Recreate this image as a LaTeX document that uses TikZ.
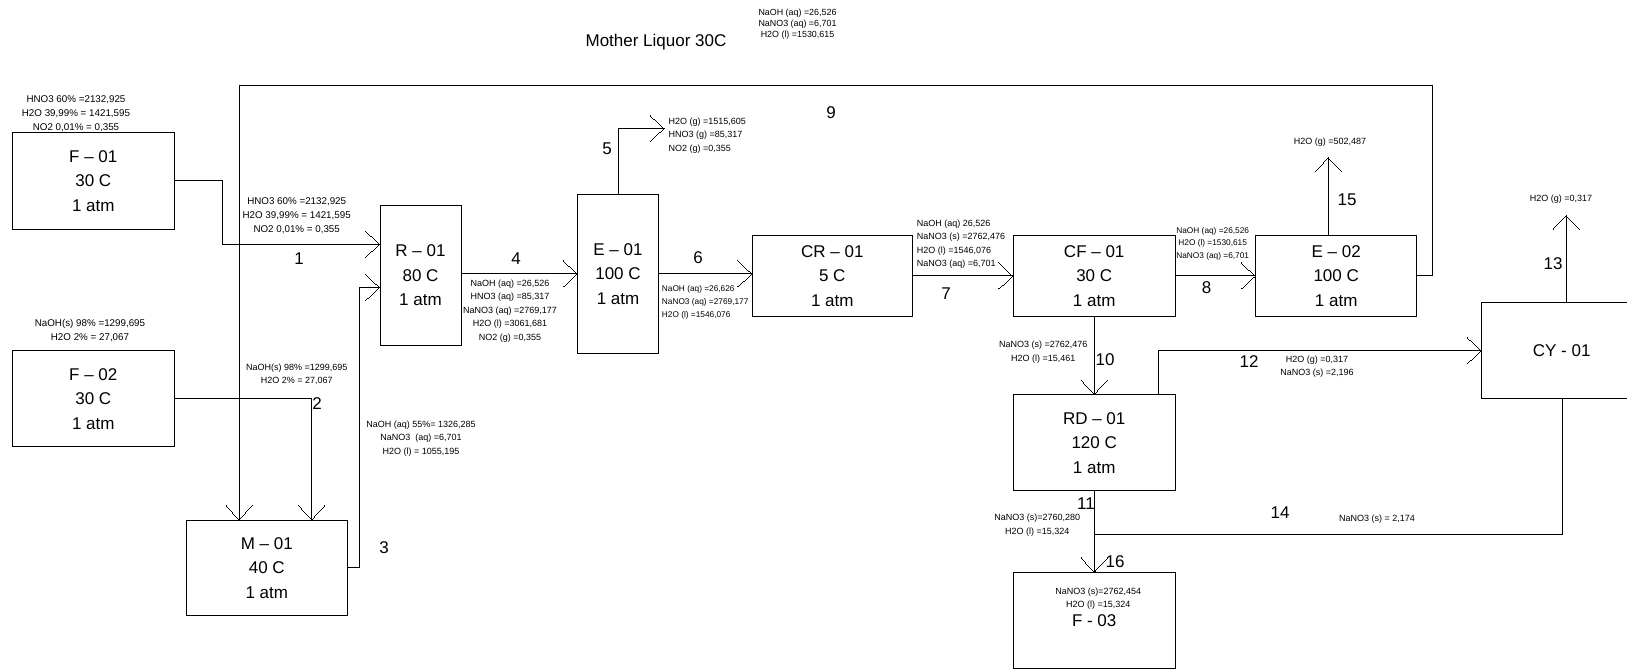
\documentclass[tikz,border=0pt]{standalone}
\usepackage{fontspec}
\setmainfont{Liberation Sans}
\usetikzlibrary{arrows.meta}
\pgfdeclarearrow{
  name = Vbarb,
  parameters = {\the\pgfarrowlength,\the\pgfarrowwidth,\the\pgfarrowlinewidth},
  setup code = {
    \pgfarrowssettipend{0pt}
    \pgfarrowssetlineend{-0.5\pgfarrowlinewidth}
    \pgfarrowssetbackend{-\pgfarrowlength}
    \pgfarrowsupperhullpoint{-\pgfarrowlength}{.5\pgfarrowwidth}
    \pgfarrowsupperhullpoint{0pt}{0pt}
    \pgfarrowssavethe\pgfarrowlength
    \pgfarrowssavethe\pgfarrowwidth
    \pgfarrowssavethe\pgfarrowlinewidth
  },
  drawing code = {
    \pgfsetlinewidth{\pgfarrowlinewidth}
    \pgfsetmiterjoin
    \pgfpathmoveto{\pgfqpoint{-\pgfarrowlength}{.5\pgfarrowwidth}}
    \pgfpathlineto{\pgfqpoint{0pt}{0pt}}
    \pgfpathlineto{\pgfqpoint{-\pgfarrowlength}{-.5\pgfarrowwidth}}
    \pgfusepathqstroke
  },
  defaults = {length=14pt, width=26pt}
}
\tikzset{
  unit/.style={draw, line width=0.9pt, align=center, inner sep=0pt, font=\fontsize{17}{24.5}\selectfont},
  num/.style={inner sep=0pt, font=\fontsize{17}{20}\selectfont},
  lbl/.style={align=center, inner sep=0pt, font=\fontsize{9}{13.5}\selectfont},
  lbll/.style={lbl, align=left, anchor=west},
  feed/.style={lbl, font=\fontsize{9.8}{14}\selectfont},
  tiny/.style={lbl, font=\fontsize{8.3}{12.5}\selectfont},
  arr/.style={-{Vbarb[length=14pt,width=26pt]}},
  conn/.style={line width=0.9pt}
}
\begin{document}
\begin{tikzpicture}[x=1pt,y=-1pt]
\path[use as bounding box] (0,0) rectangle (1627,669);
\clip (0,0) rectangle (1627,669);

% units
\node[unit, minimum width=161.3pt, minimum height=96.3pt] (F01) at (93.3,180.9) {F -- 01\\30 C\\1 atm};
\node[unit, minimum width=161.3pt, minimum height=96pt] (F02) at (93.3,398.7) {F -- 02\\30 C\\1 atm};
\node[unit, minimum width=161.7pt, minimum height=95.7pt] (M01) at (266.8,567.8) {M -- 01\\40 C\\1 atm};
\node[unit, minimum width=81pt, minimum height=140.7pt] (R01) at (420.5,275.4) {R -- 01\\80 C\\1 atm};
\node[unit, minimum width=80.6pt, minimum height=159.3pt] (E01) at (618,273.7) {E -- 01\\100 C\\1 atm};
\node[unit, minimum width=160pt, minimum height=81.7pt] (CR01) at (832.3,275.85) {CR -- 01\\5 C\\1 atm};
\node[unit, minimum width=161.7pt, minimum height=81.7pt] (CF01) at (1094.2,275.85) {CF -- 01\\30 C\\1 atm};
\node[unit, minimum width=161pt, minimum height=81.7pt] (E02) at (1336.2,275.85) {E -- 02\\100 C\\1 atm};
\node[unit, minimum width=161.7pt, minimum height=96.4pt] (RD01) at (1094.2,442.7) {RD -- 01\\120 C\\1 atm};
\node[unit, minimum width=160pt, minimum height=96pt] (CY01) at (1561.7,350.5) {CY - 01};
\node[unit, minimum width=161.7pt, minimum height=95.7pt] (F03) at (1094.2,620.2) {F - 03};

% free ends
\coordinate (s5end) at (664,128.3);
\coordinate (r9a) at (1432.3,85);
\coordinate (s13end) at (1566,215);
\coordinate (s15end) at (1328.3,157.3);
\coordinate (j14) at (1094.2,534.3);

% connectors
\draw[conn,arr] (F01.east) -- ++(47.7,0) |- ([yshift=31.4pt]R01.west);
\draw[conn,arr] (F02.east) -| ([xshift=44.9pt]M01.north);
\draw[conn,arr] (M01.east) -- ++(11.6,0) |- ([yshift=-11.9pt]R01.west);
\draw[conn,arr] (R01.east |- E01.west) -- (E01.west);
\draw[conn,arr] (E01.north) |- (s5end);
\draw[conn,arr] (E01.east) -- (E01.east -| CR01.west);
\draw[conn,arr] (CR01.east) -- (CF01.west);
\draw[conn,arr] (CF01.east) -- (E02.west);
\draw[conn,arr] (E02.east) -| (r9a) -| ([xshift=-27.8pt]M01.north);
\draw[conn,arr] (CF01.south) -- (RD01.north);
\draw[conn,arr] (RD01.south) -- (F03.north);
\draw[conn,arr] ([xshift=64.1pt]RD01.north) |- (CY01.west);
\draw[conn,arr] ([xshift=4.3pt]CY01.north) -- (s13end);
\draw[conn] ([xshift=1pt]CY01.south) |- (j14);
\draw[conn,arr] ([xshift=-7.9pt]E02.north) -- (s15end);

% stream numbers
\node[num] (n1) at (299,259) {1};
\node[num] (n2) at (317,404) {2};
\node[num] (n3) at (384,548) {3};
\node[num] (n4) at (516,258.5) {4};
\node[num] (n5) at (607,148.5) {5};
\node[num] (n6) at (698,257.3) {6};
\node[num] (n7) at (946,293.6) {7};
\node[num] (n8) at (1206.7,287.4) {8};
\node[num] (n9) at (831,113) {9};
\node[num] (n10) at (1105,360) {10};
\node[num] (n11) at (1086,504) {11};
\node[num] (n12) at (1249,362) {12};
\node[num] (n13) at (1553,263.5) {13};
\node[num] (n14) at (1280,512.6) {14};
\node[num] (n15) at (1347,200) {15};
\node[num] (n16) at (1115,562) {16};

\node[num] (ml) at (656,41.7) {Mother Liquor 30C};

% compositions
\node[lbl, font=\fontsize{8.9}{11.3}\selectfont] (tml) at (797.5,24) {NaOH (aq) =26,526\\NaNO3 (aq) =6,701\\H2O (l) =1530,615};
\node[feed] (tf01) at (76,114.2) {HNO3 60\% =2132,925\\H2O 39,99\% = 1421,595\\NO2 0,01\% = 0,355};
\node[feed] (ts1) at (296.7,215.5) {HNO3 60\% =2132,925\\H2O 39,99\% = 1421,595\\NO2 0,01\% = 0,355};
\node[feed] (tf02) at (90,330.5) {NaOH(s) 98\% =1299,695\\H2O 2\% = 27,067};
\node[lbl] (ts2) at (296.7,374.5) {NaOH(s) 98\% =1299,695\\H2O 2\% = 27,067};
\node[lbl] (ts3) at (421,438.5) {NaOH (aq) 55\%= 1326,285\\NaNO3\ \ (aq) =6,701\\H2O (l) = 1055,195};
\node[lbl] (ts4) at (510,311) {NaOH (aq) =26,526\\HNO3 (aq) =85,317\\NaNO3 (aq) =2769,177\\H2O (l) =3061,681\\NO2 (g) =0,355};
\node[lbll] (ts5) at (668.3,135.3) {H2O (g) =1515,605\\HNO3 (g) =85,317\\NO2 (g) =0,355};
\node[lbll, font=\fontsize{8.3}{12.9}\selectfont] (ts6) at (661.7,302.3) {NaOH (aq) =26,626\\NaNO3 (aq) =2769,177\\H2O (l) =1546,076};
\node[lbll] (ts7) at (916.7,244) {NaOH (aq) 26,526\\NaNO3 (s) =2762,476\\H2O (l) =1546,076\\NaNO3 (aq) =6,701};
\node[tiny] (ts8) at (1212.7,243.5) {NaOH (aq) =26,526\\H2O (l) =1530,615\\NaNO3 (aq) =6,701};
\node[lbl] (ts10) at (1043.3,352) {NaNO3 (s) =2762,476\\H2O (l) =15,461};
\node[lbl] (ts11) at (1037.3,525) {NaNO3 (s)=2760,280\\H2O (l) =15,324};
\node[lbl] (ts12) at (1317,366.5) {H2O (g) =0,317\\NaNO3 (s) =2,196};
\node[lbl] (ts13) at (1561,199.5) {H2O (g) =0,317};
\node[lbl] (ts14) at (1377,519) {NaNO3 (s) = 2,174};
\node[lbl] (ts15) at (1330,142) {H2O (g) =502,487};
\node[lbl] (tf03) at (1098.3,598.7) {NaNO3 (s)=2762,454\\H2O (l) =15,324};
\end{tikzpicture}
\end{document}
